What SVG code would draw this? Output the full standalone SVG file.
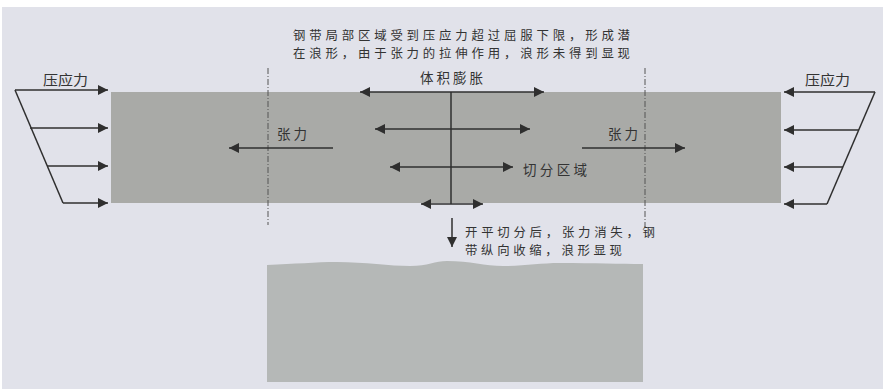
<svg xmlns="http://www.w3.org/2000/svg" width="885" height="391" viewBox="0 0 885 391">
<defs>
<marker id="ah" viewBox="0 0 10 10" refX="10" refY="5" markerWidth="10" markerHeight="10" markerUnits="userSpaceOnUse" orient="auto-start-reverse">
<path d="M0,0 L10,5 L0,10 Z" fill="#2f2f2f"/>
</marker>
<style>
.ln{stroke:#2f2f2f;stroke-width:1.5;fill:none}
.ar{stroke:#2f2f2f;stroke-width:1.5;fill:none;marker-end:url(#ah)}
.da{stroke:#555;stroke-width:1;stroke-dasharray:6 2 1 2;fill:none}
.t{font-family:"Noto Sans CJK SC","Noto Sans CJK JP",sans-serif;font-size:13.5px;fill:#333}
.s{font-size:12.4px}
</style>
</defs>
<rect x="0" y="0" width="885" height="391" fill="#ffffff"/>
<rect x="2" y="7" width="881" height="382" fill="#e1e2ea"/>
<g id="strip">
<rect x="111" y="92" width="670" height="111" fill="#a9aaa7"/>
</g>
<g id="wavy-strip">
<path d="M267,265 C295,264 315,262 337,262 C365,262 390,266 410,266 C428,266 435,261 447,261 C470,261 485,266 503,266 C525,266 540,263 560,263 C595,263 620,264 643,264 L643,382 L267,382 Z" fill="#b5b8b7"/>
</g>
<g id="connectors">
<line class="da" x1="268" y1="68" x2="268" y2="225"/>
<line class="da" x1="645" y1="68" x2="645" y2="227"/>
<polyline class="ln" points="15,90 63,203"/>
<line class="ar" x1="15" y1="90" x2="108" y2="90"/>
<line class="ar" x1="30" y1="128" x2="108" y2="128"/>
<line class="ar" x1="47" y1="166" x2="108" y2="166"/>
<line class="ar" x1="63" y1="203" x2="108" y2="203"/>
<polyline class="ln" points="875,92 827,204"/>
<line class="ar" x1="875" y1="92" x2="784" y2="92"/>
<line class="ar" x1="859" y1="130" x2="784" y2="130"/>
<line class="ar" x1="843" y1="167" x2="784" y2="167"/>
<line class="ar" x1="827" y1="204" x2="784" y2="204"/>
<line class="ln" x1="451" y1="92" x2="451" y2="204"/>
<line class="ar" x1="451" y1="92" x2="360" y2="92"/>
<line class="ar" x1="451" y1="92" x2="544" y2="92"/>
<line class="ar" x1="451" y1="129" x2="375" y2="129"/>
<line class="ar" x1="451" y1="129" x2="530" y2="129"/>
<line class="ar" x1="451" y1="167" x2="390" y2="167"/>
<line class="ar" x1="451" y1="167" x2="513" y2="167"/>
<line class="ar" x1="451" y1="204" x2="421" y2="204"/>
<line class="ar" x1="451" y1="204" x2="483" y2="204"/>
<line class="ar" x1="333" y1="148" x2="229" y2="148"/>
<line class="ar" x1="582" y1="148" x2="685" y2="148"/>
<line class="ar" x1="452" y1="218" x2="452" y2="247"/>
</g>
<g id="labels">
<text class="t" x="43" y="85" textLength="45" lengthAdjust="spacingAndGlyphs">压应力</text>
<text class="t" x="805" y="85" textLength="45" lengthAdjust="spacingAndGlyphs">压应力</text>
<text class="t s" x="293" y="40" textLength="337" lengthAdjust="spacing">钢带局部区域受到压应力超过屈服下限，形成潜</text>
<text class="t s" x="293" y="58" textLength="337" lengthAdjust="spacing">在浪形，由于张力的拉伸作用，浪形未得到显现</text>
<text class="t" x="420" y="83" textLength="63" lengthAdjust="spacing">体积膨胀</text>
<text class="t" x="277" y="139" textLength="30" lengthAdjust="spacing">张力</text>
<text class="t" x="608" y="139" textLength="30" lengthAdjust="spacing">张力</text>
<text class="t" x="523" y="175" textLength="64" lengthAdjust="spacing">切分区域</text>
<text class="t s" x="465" y="237" textLength="190" lengthAdjust="spacing">开平切分后，张力消失，钢</text>
<text class="t s" x="465" y="255" textLength="157" lengthAdjust="spacing">带纵向收缩，浪形显现</text>
</g>
</svg>
